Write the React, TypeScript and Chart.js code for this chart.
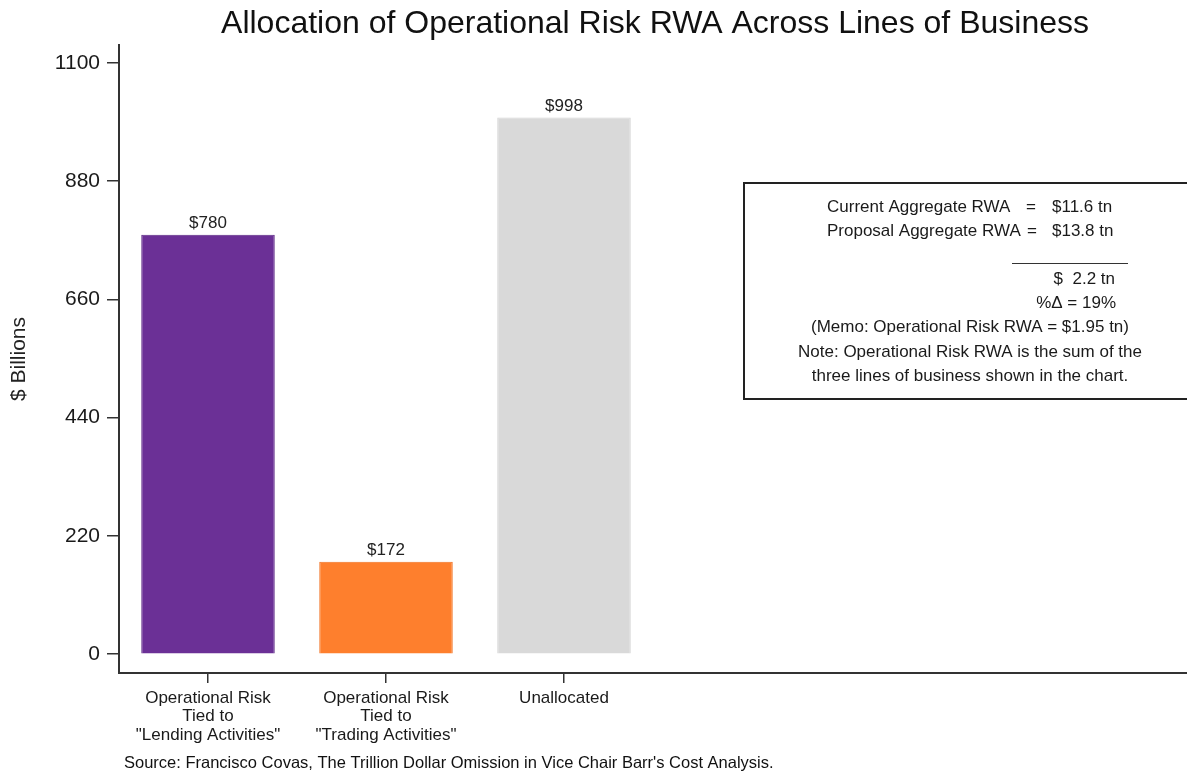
import React, { useEffect, useRef } from "react";
import { Chart, registerables } from "chart.js";

Chart.register(...registerables);

const FONT = '"Liberation Sans", Arial, Helvetica, sans-serif';

const chartTitle = "Allocation of Operational Risk RWA Across Lines of Business";
const yAxisTitle = "$ Billions";
const sourceNote =
  "Source: Francisco Covas, The Trillion Dollar Omission in Vice Chair Barr's Cost Analysis.";

const categories: (string | string[])[] = [
  ["Operational Risk", "Tied to", '"Lending Activities"'],
  ["Operational Risk", "Tied to", '"Trading Activities"'],
  "Unallocated",
];
// empty slots that keep the right part of the axis free for the note box
const emptySlots: string[] = ["", "", ""];

const values: number[] = [780, 172, 998];
const barColors: string[] = ["#6b3096", "#fe7f2d", "#d9d9d9"];
const barBorders: string[] = ["#5a2483", "#f07020", "#d3d3d3"];

const yTickValues: number[] = [0, 220, 440, 660, 880, 1100];
const yMin = -35;
const yMax = 1133;

const noteLeftLabels: string[] = ["Current Aggregate RWA", "Proposal Aggregate RWA"];
const noteEquals: string[] = ["=", "="];
const noteValues: string[] = ["$11.6 tn", "$13.8 tn"];
const noteDiff = "$  2.2 tn";
const notePct = "%\u0394 = 19%";
const noteCentered: string[] = [
  "(Memo: Operational Risk RWA = $1.95 tn)",
  "Note: Operational Risk RWA is the sum of the",
  "three lines of business shown in the chart.",
];

const decorPlugin = {
  id: "decor",
  afterDatasetsDraw(chart: any) {
    const ctx = chart.ctx;
    const meta = chart.getDatasetMeta(0);
    ctx.save();
    ctx.fillStyle = "#222";
    ctx.font = `17px ${FONT}`;
    ctx.textAlign = "center";
    ctx.textBaseline = "bottom";
    values.forEach((v, i) => {
      const el = meta.data[i];
      if (!el) return;
      ctx.fillText("$" + v, el.x, el.y - 3);
    });
    ctx.restore();
  },
  afterDraw(chart: any) {
    const ctx = chart.ctx;
    const area = chart.chartArea;
    ctx.save();
    // title
    ctx.fillStyle = "#111";
    ctx.font = `32px ${FONT}`;
    ctx.textAlign = "center";
    ctx.textBaseline = "middle";
    ctx.fillText(chartTitle, 655, 24);

    // y axis title
    ctx.save();
    ctx.translate(19, (area.top + area.bottom) / 2);
    ctx.rotate(-Math.PI / 2);
    ctx.font = `21px ${FONT}`;
    ctx.fillStyle = "#222";
    ctx.textAlign = "center";
    ctx.textBaseline = "middle";
    ctx.fillText(yAxisTitle, 0, 0);
    ctx.restore();

    // source
    ctx.font = `16.5px ${FONT}`;
    ctx.fillStyle = "#111";
    ctx.textAlign = "left";
    ctx.textBaseline = "middle";
    ctx.fillText(sourceNote, 124, 763);

    // note box
    ctx.strokeStyle = "#222";
    ctx.lineWidth = 2;
    ctx.strokeRect(744, 183, 470, 216);
    ctx.fillStyle = "#1a1a1a";
    ctx.font = `17px ${FONT}`;
    ctx.textBaseline = "middle";
    const rowY = [207, 231];
    const eqX = [1031, 1032];
    noteLeftLabels.forEach((t, i) => {
      ctx.textAlign = "left";
      ctx.fillText(t, 827, rowY[i]);
      ctx.textAlign = "center";
      ctx.fillText(noteEquals[i], eqX[i], rowY[i]);
      ctx.textAlign = "left";
      ctx.fillText(noteValues[i], 1052, rowY[i]);
    });
    ctx.lineWidth = 1;
    ctx.strokeStyle = "#333";
    ctx.beginPath();
    ctx.moveTo(1012, 263.5);
    ctx.lineTo(1128, 263.5);
    ctx.stroke();
    ctx.textAlign = "right";
    ctx.fillText(noteDiff, 1115, 279);
    ctx.fillText(notePct, 1116, 303);
    ctx.textAlign = "center";
    const cy = [327, 352, 376];
    noteCentered.forEach((t, i) => ctx.fillText(t, 970, cy[i]));
    ctx.restore();
  },
};

export default function App() {
  const ref = useRef<HTMLCanvasElement | null>(null);
  useEffect(() => {
    document.body.style.margin = "0";
    const canvas = ref.current;
    if (!canvas) return;
    const labels = [...categories, ...emptySlots];
    const data = [...values, ...emptySlots.map(() => null)];
    const chart = new Chart(canvas, {
      type: "bar",
      data: {
        labels,
        datasets: [
          {
            data: data as any,
            backgroundColor: barColors,
            borderColor: barBorders,
            borderWidth: 1,
            barPercentage: 0.75,
            categoryPercentage: 1,
          },
        ],
      },
      options: {
        animation: false,
        responsive: false,
        devicePixelRatio: 1,
        layout: { padding: { top: 45, left: 0, right: 0, bottom: 0 } },
        plugins: {
          legend: { display: false },
          title: { display: false },
          tooltip: { enabled: false },
        },
        scales: {
          x: {
            offset: true,
            grid: {
              offset: false,
              drawOnChartArea: false,
              drawTicks: true,
              tickLength: 10,
              lineWidth: 1.5,
              tickColor: (c: any) => (c.index < categories.length ? "#333" : "rgba(0,0,0,0)"),
            },
            border: { display: true, color: "#333", width: 2 },
            ticks: {
              color: "#1a1a1a",
              font: { family: FONT, size: 17, lineHeight: 1.08 },
              padding: 6,
              maxRotation: 0,
              autoSkip: false,
            },
            afterFit: (s: any) => {
              s.height = 101;
            },
          },
          y: {
            min: yMin,
            max: yMax,
            afterBuildTicks: (s: any) => {
              s.ticks = yTickValues.map((v) => ({ value: v }));
            },
            grid: {
              drawOnChartArea: false,
              drawTicks: true,
              tickLength: 12,
              lineWidth: 1.5,
              color: "#333",
              tickColor: "#333",
            },
            border: { display: true, color: "#333", width: 2 },
            ticks: {
              color: "#1a1a1a",
              font: { family: FONT, size: 21 },
              padding: 7,
              callback: (v: any) => String(v),
            },
            afterFit: (s: any) => {
              s.width = 119;
            },
          },
        },
      },
      plugins: [decorPlugin],
    });
    return () => chart.destroy();
  }, []);
  return (
    <div style={{ width: 1187, height: 774, background: "#fff" }}>
      <canvas ref={ref} width={1187} height={774} style={{ display: "block" }} />
    </div>
  );
}
